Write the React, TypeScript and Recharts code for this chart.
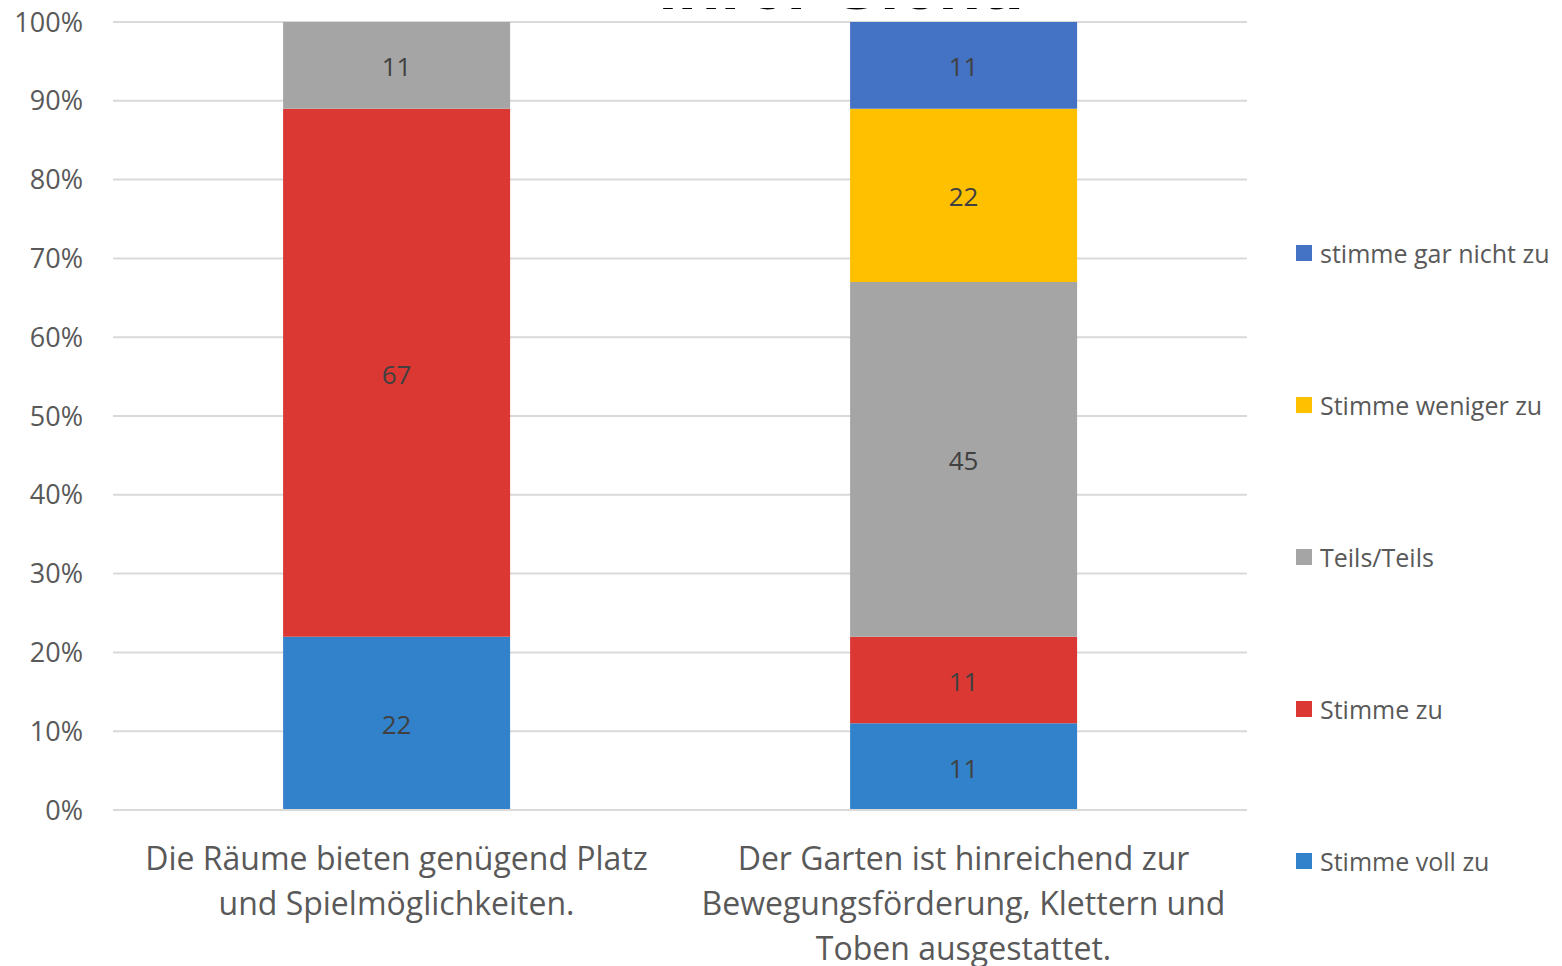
import React from 'react';
import { BarChart, Bar, XAxis, YAxis, CartesianGrid, LabelList } from 'recharts';

const categories = [
  'Die Räume bieten genügend Platz|und Spielmöglichkeiten.',
  'Der Garten ist hinreichend zur|Bewegungsförderung, Klettern und|Toben ausgestattet.',
];
const stimmeVollZu = [22, 11];
const stimmeZu = [67, 11];
const teilsTeils = [11, 45];
const stimmeWenigerZu = [null, 22];
const stimmeGarNichtZu = [null, 11];
const yTicks = [0, 10, 20, 30, 40, 50, 60, 70, 80, 90, 100];

const series = [
  { key: 'voll', name: 'Stimme voll zu', color: '#3282CB', values: stimmeVollZu },
  { key: 'zu', name: 'Stimme zu', color: '#DB3833', values: stimmeZu },
  { key: 'teils', name: 'Teils/Teils', color: '#A5A5A5', values: teilsTeils },
  { key: 'weniger', name: 'Stimme weniger zu', color: '#FFC000', values: stimmeWenigerZu },
  { key: 'garnicht', name: 'stimme gar nicht zu', color: '#4472C4', values: stimmeGarNichtZu },
];

const data = categories.map((c, i) => {
  const row: any = { name: c };
  series.forEach((s) => {
    if (s.values[i] != null) row[s.key] = s.values[i];
  });
  return row;
});

const FONT = '"Open Sans", Lato, sans-serif';

const CategoryTick = (props: any) => {
  const { x, y, payload } = props;
  const lines = String(payload.value).split('|');
  return (
    <g transform={`translate(${x},${y})`}>
      {lines.map((l, i) => (
        <text key={i} x={0} y={52 + i * 45} textAnchor="middle" fill="#595959" fontSize={32} fontFamily={FONT}>
          {l}
        </text>
      ))}
    </g>
  );
};

const renderLabel = (props: any) => {
  const { x, y, width, height, value } = props;
  if (value == null) return null;
  return (
    <text x={x + width / 2} y={y + height / 2} dy={11} textAnchor="middle" fill="#404040" fontSize={26} fontFamily={FONT}>
      {value}
    </text>
  );
};

export default function App() {
  return (
    <div style={{ margin: '-8px 0 0 -8px', width: 1562, height: 966, position: 'relative', overflow: 'hidden', background: '#fff' }}>
      <div style={{ position: 'absolute', left: 0, top: 0 }}>
        <BarChart
          width={1562}
          height={966}
          data={data}
          margin={{ top: 22, right: 315, bottom: 0, left: 0 }}
          barCategoryGap="30%"
        >
          <CartesianGrid vertical={false} stroke="#D9D9D9" strokeWidth={2} />
          <XAxis
            dataKey="name"
            axisLine={{ stroke: '#D9D9D9', strokeWidth: 2 }}
            tickLine={false}
            tick={<CategoryTick />}
            interval={0}
            height={156}
          />
          <YAxis
            width={113}
            domain={[0, 100]}
            ticks={yTicks}
            tickFormatter={(v: number) => `${v}%`}
            axisLine={false}
            tickLine={false}
            tickMargin={24}
            tick={{ fill: '#595959', fontSize: 27, fontFamily: FONT }}
          />
          {series.map((s) => (
            <Bar key={s.key} dataKey={s.key} name={s.name} stackId="a" fill={s.color} isAnimationActive={false}>
              <LabelList dataKey={s.key} content={renderLabel} />
            </Bar>
          ))}
        </BarChart>
      </div>
      <div style={{ position: 'absolute', left: 0, width: 1562, top: -50, zIndex: 5, textAlign: 'center', fontFamily: '"Liberation Sans", Arial, sans-serif', fontWeight: 'bold', fontSize: 70, lineHeight: '70px', color: '#000', paddingLeft: 120, boxSizing: 'border-box', pointerEvents: 'none' }}>
        ihrer Sicht.
      </div>
      <div style={{ position: 'absolute', left: 1296, top: 177, fontFamily: FONT }}>
        {[...series].reverse().map((s) => (
          <div key={s.key} style={{ height: 152, display: 'flex', alignItems: 'center' }}>
            <div style={{ width: 16, height: 16, background: s.color, marginRight: 8 }} />
            <span style={{ fontSize: 25, color: '#595959', whiteSpace: 'nowrap' }}>{s.name}</span>
          </div>
        ))}
      </div>
    </div>
  );
}
